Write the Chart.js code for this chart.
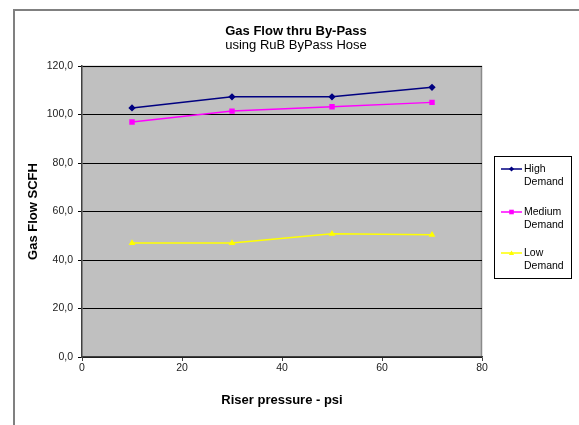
<!DOCTYPE html>
<html>
<head>
<meta charset="utf-8">
<script src="https://cdn.jsdelivr.net/npm/chart.js@4/dist/chart.umd.min.js"></script>
<style>
html,body{margin:0;padding:0;background:#fff;}
#wrap{width:579px;height:425px;position:relative;}
</style>
</head>
<body>
<div id="wrap"><canvas id="c" width="579" height="425"></canvas></div>
<script>
const pressure = [10, 30, 50, 70];
const highDemand = [102.7, 107.3, 107.3, 111.2];
const mediumDemand = [96.9, 101.4, 103.2, 105.0];
const lowDemand = [47.0, 47.0, 50.8, 50.4];
const seriesNames = [["High", "Demand"], ["Medium", "Demand"], ["Low", "Demand"]];
const chartTitle = "Gas Flow thru By-Pass";
const chartSubtitle = "using RuB ByPass Hose";
const xTitle = "Riser pressure - psi";
const yTitle = "Gas Flow SCFH";

const FONT = "'Liberation Sans', Arial, sans-serif";

function pts(vals){ return pressure.map((x,i)=>({x:x, y:vals[i]})); }

const decor = {
  id: 'decor',
  beforeDraw(chart){
    const ctx = chart.ctx, a = chart.chartArea;
    ctx.save();
    ctx.fillStyle = '#fff';
    ctx.fillRect(0,0,chart.width,chart.height);
    // outer frame
    ctx.strokeStyle = '#808080';
    ctx.lineWidth = 2;
    ctx.beginPath();
    ctx.moveTo(14, 425); ctx.lineTo(14, 10); ctx.lineTo(579, 10);
    ctx.stroke();
    // plot background
    ctx.fillStyle = '#c0c0c0';
    ctx.fillRect(a.left, a.top, a.right-a.left, a.bottom-a.top);
    ctx.strokeStyle = '#8a8a8a';
    ctx.lineWidth = 1.5;
    ctx.beginPath();
    ctx.moveTo(a.left, a.top+0.5); ctx.lineTo(a.right-0.5, a.top+0.5); ctx.lineTo(a.right-0.5, a.bottom);
    ctx.stroke();
    // titles
    ctx.fillStyle = '#000';
    ctx.textAlign = 'center';
    ctx.textBaseline = 'middle';
    ctx.font = 'bold 13px ' + FONT;
    ctx.fillText(chartTitle, 296, 31);
    ctx.font = '13px ' + FONT;
    ctx.fillText(chartSubtitle, 296, 45);
    ctx.restore();
  },
  afterDraw(chart){
    const ctx = chart.ctx;
    ctx.save();
    ctx.strokeStyle = '#000';
    ctx.lineWidth = 1;
    ctx.strokeRect(494.5, 156.5, 77, 122);
    const rows = [169, 212, 253];
    chart.data.datasets.forEach((ds, i) => {
      const y = rows[i];
      ctx.strokeStyle = ds.borderColor;
      ctx.lineWidth = 1.5;
      ctx.beginPath(); ctx.moveTo(501, y); ctx.lineTo(522, y); ctx.stroke();
      ctx.fillStyle = ds.backgroundColor;
      const cx = 511.5, r = 2.6;
      ctx.beginPath();
      if (ds.pointStyle === 'rectRot') {
        ctx.moveTo(cx, y-r); ctx.lineTo(cx+r, y); ctx.lineTo(cx, y+r); ctx.lineTo(cx-r, y); ctx.closePath();
      } else if (ds.pointStyle === 'rect') {
        ctx.rect(cx-r+0.3, y-r+0.3, 2*r-0.6, 2*r-0.6);
      } else {
        ctx.moveTo(cx, y-r); ctx.lineTo(cx+r, y+r*0.8); ctx.lineTo(cx-r, y+r*0.8); ctx.closePath();
      }
      ctx.fill();
      ctx.fillStyle = '#000';
      ctx.font = '10.5px ' + FONT;
      ctx.textAlign = 'left';
      ctx.textBaseline = 'middle';
      const lines = seriesNames[i];
      ctx.fillText(lines[0], 524, y);
      ctx.fillText(lines[1], 524, y + 13);
    });
    ctx.restore();
  }
};

new Chart(document.getElementById('c'), {
  type: 'line',
  data: {
    datasets: [
      { label: 'High Demand', data: pts(highDemand), borderColor: '#000080', backgroundColor: '#000080', pointStyle: 'rectRot', pointRadius: 2.6, borderWidth: 1.5 },
      { label: 'Medium Demand', data: pts(mediumDemand), borderColor: '#ff00ff', backgroundColor: '#ff00ff', pointStyle: 'rect', pointRadius: 2.8, borderWidth: 1.5 },
      { label: 'Low Demand', data: pts(lowDemand), borderColor: '#ffff00', backgroundColor: '#ffff00', pointStyle: 'triangle', pointRadius: 2.4, borderWidth: 1.5 }
    ]
  },
  options: {
    responsive: false,
    animation: false,
    devicePixelRatio: 1,
    layout: { padding: { left: 0, right: 97, top: 66, bottom: 0 } },
    plugins: { legend: { display: false }, tooltip: { enabled: false }, title: { display: false } },
    scales: {
      x: {
        type: 'linear', min: 0, max: 80,
        ticks: { stepSize: 20, color: '#222', font: { family: FONT, size: 10.5 }, padding: 1, maxRotation: 0 },
        grid: { drawOnChartArea: false, drawTicks: true, tickLength: 4, color: '#404040' },
        border: { color: '#404040', width: 1.5 },
        title: { display: true, text: xTitle, color: '#000', font: { family: FONT, size: 13, weight: 'bold' }, padding: { top: 0, bottom: 17 } },
        afterFit(s){ s.height = 68; }
      },
      y: {
        min: 0, max: 120,
        ticks: { stepSize: 20, color: '#222', font: { family: FONT, size: 10.5 }, padding: 5,
          callback: v => v.toFixed(1).replace('.', ',') },
        grid: { color: '#000', lineWidth: 1, drawTicks: true, tickLength: 4 },
        border: { color: '#404040', width: 1.5 },
        title: { display: true, text: yTitle, color: '#000', font: { family: FONT, size: 13, weight: 'bold' }, padding: { top: 26, bottom: 0 } },
        afterFit(s){ s.width = 82; }
      }
    }
  },
  plugins: [decor]
});
</script>
</body>
</html>
